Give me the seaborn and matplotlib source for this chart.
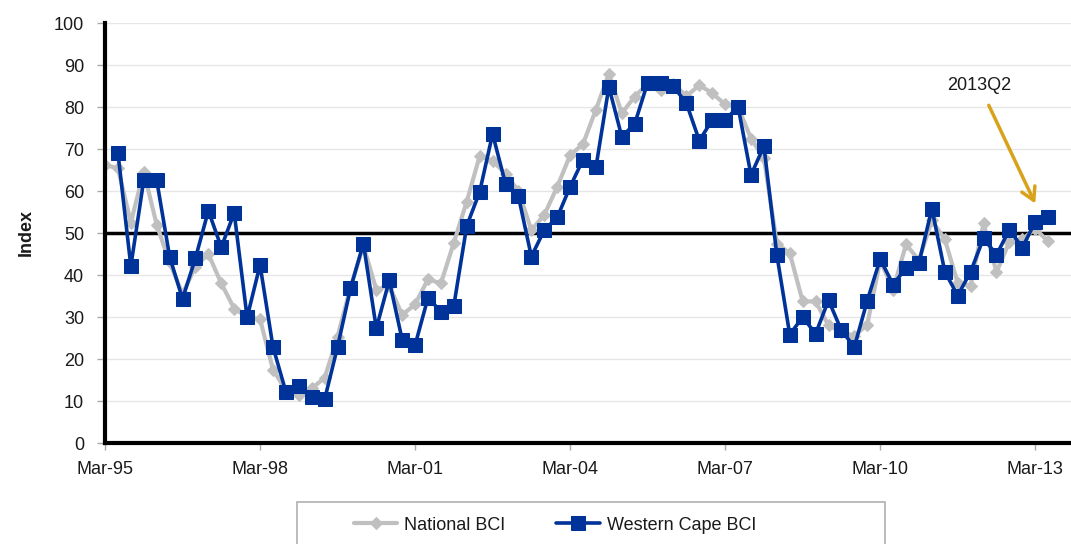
import numpy as np
import pandas as pd
import matplotlib
matplotlib.use("Agg")
import matplotlib.pyplot as plt
import seaborn as sns
from matplotlib.patches import Rectangle

# quarterly BCI readings, 1995Q1 .. 2013Q2
quarters = [str(p) for p in pd.period_range("1995Q1", "2013Q2", freq="Q")]

national = [
    66.2, 65.4, 52.5, 64.6, 52.0, 43.0, 35.5, 42.0, 45.0, 38.0,
    32.0, 30.0, 29.5, 17.5, 12.5, 11.5, 13.0, 15.5, 25.3, 37.0,
    47.0, 36.5, 37.5, 30.5, 33.0, 39.0, 38.0, 47.7, 57.5, 68.3,
    67.2, 64.1, 60.0, 50.7, 54.3, 61.0, 68.5, 71.2, 79.4, 87.9,
    78.5, 82.5, 85.5, 84.0, 85.5, 82.6, 85.2, 83.3, 80.6, 80.0,
    72.5, 67.8, 47.5, 45.2, 33.7, 33.7, 28.0, 26.5, 25.5, 28.2,
    43.5, 36.5, 47.3, 43.5, 53.0, 48.5, 38.1, 37.5, 52.3, 40.7,
    47.9, 48.5, 51.0, 48.0,
]

western_cape = [
    None, 69.1, 42.1, 62.6, 62.6, 44.4, 34.3, 44.0, 55.3, 46.6,
    54.8, 29.9, 42.4, 22.9, 12.2, 13.6, 10.9, 10.4, 22.9, 36.8,
    47.5, 27.3, 38.7, 24.6, 23.3, 34.6, 31.3, 32.7, 51.7, 59.8,
    73.6, 61.7, 58.7, 44.4, 50.7, 53.7, 61.0, 67.5, 65.7, 84.8,
    72.9, 76.0, 85.8, 85.8, 84.9, 80.9, 72.0, 76.9, 76.9, 80.1,
    63.8, 70.7, 44.8, 25.8, 30.0, 26.0, 34.0, 26.8, 22.9, 33.9,
    43.8, 37.7, 41.7, 42.9, 55.8, 40.8, 35.1, 40.8, 48.8, 44.8,
    50.8, 46.5, 52.7, 53.9,
]

tick_labels = ["Mar-95", "Mar-98", "Mar-01", "Mar-04", "Mar-07", "Mar-10", "Mar-13"]
y_ticks = list(range(0, 101, 10))

df = pd.DataFrame({
    "quarter": quarters,
    "pos": np.arange(len(quarters)),
    "National BCI": national,
    "Western Cape BCI": pd.to_numeric(pd.Series(western_cape), errors="coerce"),
})

sns.set_style("white")
plt.rcParams["font.family"] = ["Liberation Sans", "DejaVu Sans"]
txt = "#1a1a1a"

W, H = 1071, 544
fig = plt.figure(figsize=(W / 100, H / 100), dpi=100)
ax = fig.add_axes([105 / W, 1 - 443 / H, (W - 105) / W, (443 - 23) / H])

# grid and the 50 threshold line
for v in y_ticks:
    ax.axhline(v, color="#e6e6e6", lw=1, zorder=0)
ax.axhline(50, color="black", lw=2.5, zorder=1)

sns.lineplot(data=df, x="pos", y="National BCI", ax=ax, color="#c0c0c0", lw=3,
             marker="D", markersize=6, markeredgecolor="#c0c0c0",
             label="National BCI", zorder=2)
sns.lineplot(data=df, x="pos", y="Western Cape BCI", ax=ax, color="#003399", lw=2.6,
             marker="s", markersize=10, markeredgecolor="#003399",
             label="Western Cape BCI", zorder=3)

handles, labels = ax.get_legend_handles_labels()
if ax.get_legend() is not None:
    ax.get_legend().remove()

ax.set_xlim(0, (W - 105) / 12.92)
ax.set_ylim(0, 100)
ax.set_yticks(y_ticks)
ax.set_xticks(df["pos"][::12])
ax.set_xticklabels(tick_labels)
ax.set_xlabel("")
ax.set_ylabel("Index", fontsize=13, fontweight="bold", color=txt, labelpad=14)
ax.tick_params(axis="y", which="major", length=6, width=1, color="#aaaaaa",
               labelsize=13, labelcolor=txt, pad=9, left=True)
ax.tick_params(axis="x", which="major", length=5, width=1, color="#aaaaaa",
               labelsize=13, labelcolor=txt, pad=8, bottom=True)

for side in ["top", "right"]:
    ax.spines[side].set_visible(False)
for side in ["left", "bottom"]:
    ax.spines[side].set_color("black")
    ax.spines[side].set_linewidth(3)
    ax.spines[side].set_zorder(4)

ax.annotate("2013Q2", xy=(72.0, 57.0), xytext=(67.7, 85.0),
            ha="center", va="center", fontsize=13, color=txt,
            arrowprops=dict(arrowstyle="->,head_length=0.7,head_width=0.4",
                            color="#d9a21b", lw=2.5, shrinkA=6, shrinkB=0))

# legend box sits below the axis, partly cut by the figure edge
fig.patches.append(Rectangle((297 / W, -0.05), (885 - 297) / W, 0.05 + (544 - 502) / H,
                             transform=fig.transFigure, fill=False,
                             edgecolor="#b0b0b0", lw=1.2))
fig.legend(handles, labels, loc="center", bbox_to_anchor=(555 / W, 1 - 525 / H),
           ncol=2, frameon=False, fontsize=13, handlelength=2.4, handletextpad=0.4,
           columnspacing=2.8, labelcolor=txt)

fig.savefig("out.png", dpi=100)
